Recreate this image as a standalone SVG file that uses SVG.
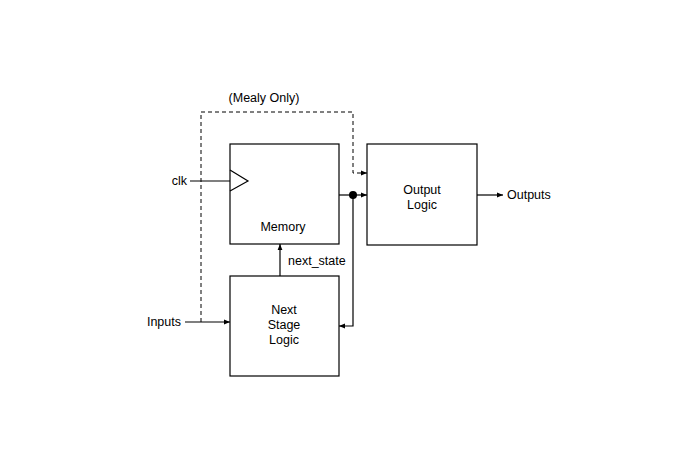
<svg xmlns="http://www.w3.org/2000/svg" width="696" height="469" viewBox="0 0 696 469">
<style>
.box{fill:#fff;stroke:#000;stroke-width:1.2}
.ln{fill:none;stroke:#000;stroke-width:1.2}
.dash{fill:none;stroke:#000;stroke-width:1;stroke-dasharray:4,3}
text{font-family:"Liberation Sans",Arial,sans-serif;font-size:12.5px;fill:#000}
.c{text-anchor:middle}
</style>
<defs>
<marker id="ah" viewBox="0 0 10 10" refX="10" refY="5" markerWidth="6" markerHeight="6" markerUnits="userSpaceOnUse" orient="auto">
<path d="M0,1 L10,5 L0,9 Z" fill="#000"/>
</marker>
</defs>
<rect width="696" height="469" fill="#fff"/>
<g id="connectors">
<path class="dash" d="M201,322 V112 H353 V173 H367" marker-end="url(#ah)"/>
<path class="ln" d="M190,181 H230"/>
<path class="ln" d="M339,195 H367" marker-end="url(#ah)"/>
<path class="ln" d="M353,195 V326 H339" marker-end="url(#ah)"/>
<path class="ln" d="M185,322 H230" marker-end="url(#ah)"/>
<path class="ln" d="M280,276 V244" marker-end="url(#ah)"/>
<path class="ln" d="M477,195 H503" marker-end="url(#ah)"/>
<circle cx="353" cy="195" r="4" fill="#000"/>
<text x="264" y="102" class="c">(Mealy Only)</text>
<text x="288" y="265">next_state</text>
</g>
<g id="memory">
<rect class="box" x="230" y="144" width="109" height="100"/>
<path class="ln" d="M230,170 L248,181 L230,191"/>
<text x="283" y="231" class="c">Memory</text>
</g>
<g id="output-logic">
<rect class="box" x="367" y="144" width="110" height="101"/>
<text x="422" y="194" class="c">Output</text>
<text x="422" y="209" class="c">Logic</text>
</g>
<g id="next-stage-logic">
<rect class="box" x="230" y="276" width="109" height="100"/>
<text x="284" y="314" class="c">Next</text>
<text x="284" y="329" class="c">Stage</text>
<text x="284" y="344" class="c">Logic</text>
</g>
<g id="labels">
<text x="187" y="185" text-anchor="end">clk</text>
<text x="181" y="326" text-anchor="end">Inputs</text>
<text x="507" y="199">Outputs</text>
</g>
</svg>
